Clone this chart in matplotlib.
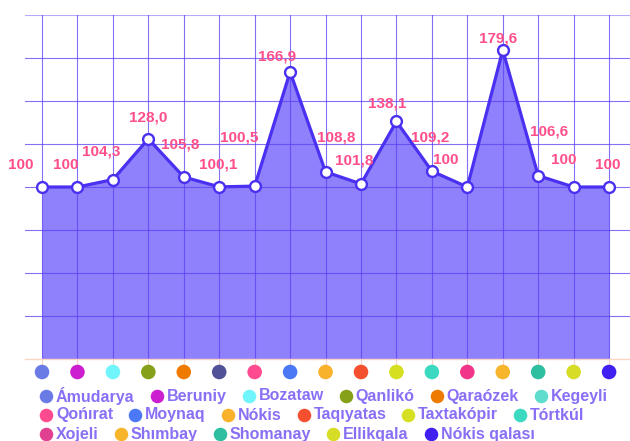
import matplotlib
matplotlib.use("Agg")
import matplotlib.pyplot as plt
import matplotlib.transforms as mtransforms

# ---- data ----
categories = ["Ámudarya", "Beruniy", "Bozataw", "Qanlikó", "Qaraózek", "Kegeyli",
              "Qońırat", "Moynaq", "Nókis", "Taqıyatas", "Taxtakópir", "Tórtkúl",
              "Xojeli", "Shımbay", "Shomanay", "Ellikqala", "Nókis qalası"]
values = [100, 100, 104.3, 128.0, 105.8, 100.1, 100.5, 166.9, 108.8, 101.8,
          138.1, 109.2, 100, 179.6, 106.6, 100, 100]
value_labels = ["100", "100", "104,3", "128,0", "105,8", "100,1", "100,5", "166,9",
                "108,8", "101,8", "138,1", "109,2", "100", "179,6", "106,6", "100", "100"]
legend_colors = ["#6b7be6", "#cc1fd0", "#6ff5fb", "#86a01a", "#ef7a00", "#5fdccc",
                 "#ff4a90", "#4b78f5", "#f9b22c", "#f44f2e", "#d6e021", "#3ad9c0",
                 "#e0408f", "#f7b52c", "#2ebfa0", "#d7dd26", "#4020f0"]
dot_colors = ["#6b7be6", "#cc1fd0", "#6ff5fb", "#86a01a", "#ef7a00", "#515198",
              "#ff4a90", "#4b78f5", "#f9b22c", "#f44f2e", "#d6e021", "#3ad9c0",
              "#f0358a", "#f7b52c", "#2ebfa0", "#d7dd26", "#4020f0"]

# ---- layout / style ----
# label centre offsets relative to point (pixels, +x right, +y down)
label_offsets = [(-21, -22), (-12, -22), (-12, -28), (0, -21), (-4, -33), (-1, -22),
                 (-15, -49), (-13, -15), (11, -34), (-7, -23), (-9, -18), (-2, -34),
                 (-22, -27), (-5, -12), (11, -44), (-10, -27), (-1, -22)]
legend_rows = [6, 6, 5]

W, H, DPI = 630, 441, 100
LINE = "#4a30f0"
FILL = "#8f80fb"
GRID = "#5a40f5"
PEACH = "#fcd6c4"
LABEL = "#ff4f8b"
LEGTXT = "#8a6ff5"
FONT = "Liberation Sans"

fig = plt.figure(figsize=(W / DPI, H / DPI), dpi=DPI)
ax_left, ax_right, ax_top, ax_bottom = 25, 630, 15, 359
ax = fig.add_axes([ax_left / W, 1 - ax_bottom / H, (ax_right - ax_left) / W,
                   (ax_bottom - ax_top) / H])

x = list(range(len(values)))
ax.set_xlim(-0.48, 16.59)
ax.set_ylim(0, 200)

ax.fill_between(x, 0, values, color=FILL, zorder=1, linewidth=0)
ax.set_yticks([0, 25, 50, 75, 100, 125, 150, 175, 200])
ax.set_xticks(x)
ax.grid(True, color=GRID, alpha=0.75, linewidth=0.8, zorder=2)
ax.set_axisbelow(False)
for s in ["top", "right", "left"]:
    ax.spines[s].set_visible(False)
ax.spines["bottom"].set_color(PEACH)
ax.spines["bottom"].set_linewidth(1.0)
ax.spines["bottom"].set_zorder(3)
ax.tick_params(axis="y", length=0, labelleft=False)
ax.tick_params(axis="x", length=5, color=PEACH, width=0.8, labelbottom=False)
# gridline at y=0 replaced by peach spine; top gridline lighter
ygl = ax.get_ygridlines()
ygl[0].set_visible(False)
ygl[-1].set_alpha(0.45)

ax.plot(x, values, color=LINE, linewidth=2.3, zorder=4, solid_joinstyle="round")
ax.plot(x, values, linestyle="none", marker="o", markersize=7.8,
        markerfacecolor="white", markeredgecolor=LINE, markeredgewidth=1.7,
        zorder=5, clip_on=False)

for xi, v, lab, (dx, dy) in zip(x, values, value_labels, label_offsets):
    ax.annotate(lab, (xi, v), xytext=(dx, -dy), textcoords="offset pixels",
                ha="center", va="center", color=LABEL, fontsize=11,
                fontweight="bold", family=FONT, zorder=6, annotation_clip=False)

# category dots below axis
trans = mtransforms.blended_transform_factory(ax.transData, ax.transAxes)
dot_y = -(372 - ax_bottom) / (ax_bottom - ax_top)
ax.scatter(x, [dot_y] * len(x), s=110, c=dot_colors, transform=trans,
           clip_on=False, zorder=6, linewidths=0)

# legend (flow layout) on an overlay axes in pixel coords
ov = fig.add_axes([0, 0, 1, 1], facecolor="none")
ov.set_xlim(0, W)
ov.set_ylim(H, 0)
ov.axis("off")
fig.canvas.draw()
renderer = fig.canvas.get_renderer()

row_y = [396, 415, 434]
start_x = 46
idx = 0
for r, n in enumerate(legend_rows):
    cx = start_x
    for k in range(n):
        name = categories[idx]
        ov.scatter([cx], [row_y[r]], s=95, color=legend_colors[idx], linewidths=0,
                   zorder=3)
        t = ov.text(cx + 10, row_y[r], name, ha="left", va="center",
                    color=LEGTXT, fontsize=11.5, fontweight="bold", family=FONT)
        wpx = t.get_window_extent(renderer).width
        cx = cx + 10 + wpx + 22
        idx += 1

fig.savefig("out.png", dpi=DPI)
